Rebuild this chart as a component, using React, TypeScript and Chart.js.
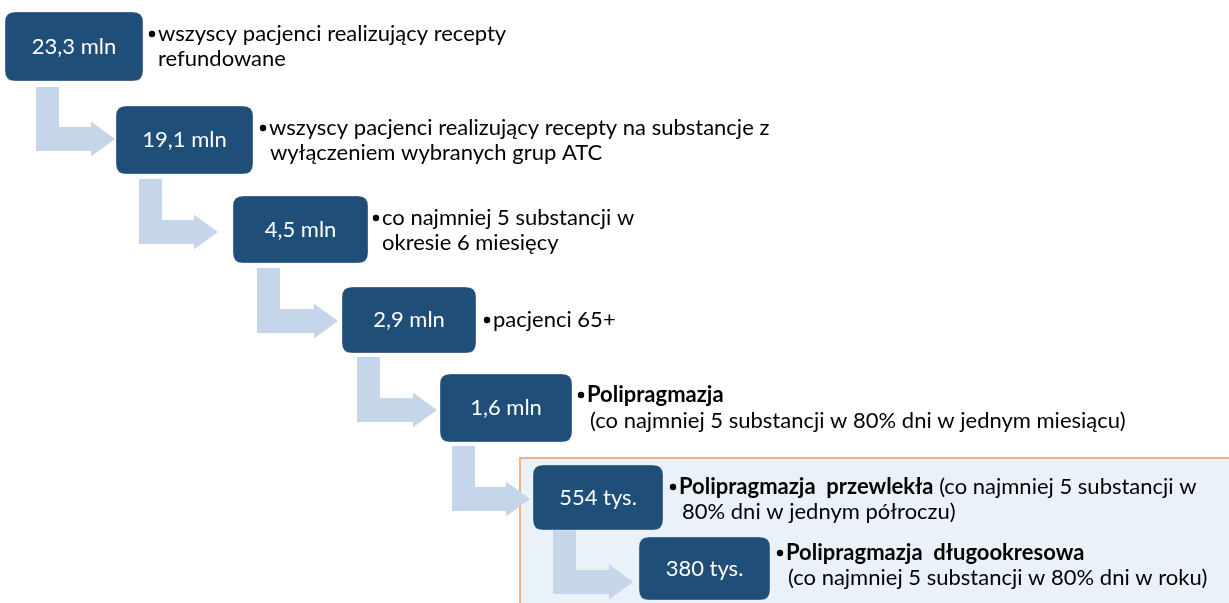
import React, { useEffect, useRef } from "react";
import { Chart, registerables } from "chart.js";

Chart.register(...registerables);

// ---- data ----
const stepValues: string[] = ["23,3 mln", "19,1 mln", "4,5 mln", "2,9 mln", "1,6 mln", "554 tys.", "380 tys."];
const stepDescriptions: string[][] = [
  ["wszyscy pacjenci realizujący recepty", "refundowane"],
  ["wszyscy pacjenci realizujący recepty na substancje z", "wyłączeniem wybranych grup ATC"],
  ["co najmniej 5 substancji w", "okresie 6 miesięcy"],
  ["pacjenci 65+"],
  ["**Polipragmazja**", "(co najmniej 5 substancji w 80% dni w jednym miesiącu)"],
  ["**Polipragmazja  przewlekła** (co najmniej 5 substancji w", "80% dni w jednym półroczu)"],
  ["**Polipragmazja  długookresowa**", "(co najmniej 5 substancji w 80% dni w roku)"],
];

// ---- layout (page pixels) ----
const boxRects: number[][] = [
  [5, 12, 143, 81],
  [116, 106, 253, 174],
  [233, 196, 368, 263],
  [342, 287, 476, 353],
  [440, 374, 572, 442],
  [533, 465, 663, 530],
  [639, 537, 770, 600],
];
const textStartX: number[] = [148, 259, 372, 483, 577, 669, 776];
const secondLineShift: number[] = [0, 1, 0, 0, 3, 3, 2];
const textLineY: number[][] = [[34, 59], [128, 153], [218, 243], [320], [395, 421], [487, 512], [553, 578]];
// arrow: stemLeftX, stemTopY, tipX, centerY
const arrows: number[][] = [
  [36, 87, 115, 139],
  [139, 179, 218, 232],
  [257, 268, 338, 321],
  [357, 357, 437, 410],
  [452, 446, 530, 499],
  [553, 530, 633, 582],
];
const panelRect = [520, 458, 1240, 615];

const FONT = "Lato, 'Open Sans', sans-serif";
const FS = 22;
const BULLET_ADV = 10;
const BOX_COLOR = "#1F4E79";
const ARROW_COLOR = "#C5D5EA";

function roundRect(ctx: CanvasRenderingContext2D, x: number, y: number, w: number, h: number, r: number) {
  ctx.beginPath();
  ctx.moveTo(x + r, y);
  ctx.lineTo(x + w - r, y);
  ctx.quadraticCurveTo(x + w, y, x + w, y + r);
  ctx.lineTo(x + w, y + h - r);
  ctx.quadraticCurveTo(x + w, y + h, x + w - r, y + h);
  ctx.lineTo(x + r, y + h);
  ctx.quadraticCurveTo(x, y + h, x, y + h - r);
  ctx.lineTo(x, y + r);
  ctx.quadraticCurveTo(x, y, x + r, y);
  ctx.closePath();
}

const diagramPlugin = {
  id: "diagram",
  beforeDatasetsDraw(chart: any) {
    const ctx: CanvasRenderingContext2D = chart.ctx;
    const xs = chart.scales.x;
    const ys = chart.scales.y;
    const X = (v: number) => xs.getPixelForValue(v);
    const Y = (v: number) => ys.getPixelForValue(v);
    ctx.save();

    // highlighted panel
    ctx.fillStyle = "#EBF1F9";
    ctx.fillRect(X(panelRect[0]), Y(panelRect[1]), X(panelRect[2]) - X(panelRect[0]), Y(panelRect[3]) - Y(panelRect[1]));
    ctx.strokeStyle = "#F4B183";
    ctx.lineWidth = 2;
    ctx.strokeRect(X(panelRect[0]), Y(panelRect[1]), X(panelRect[2]) - X(panelRect[0]), Y(panelRect[3]) - Y(panelRect[1]));

    // arrows
    ctx.fillStyle = ARROW_COLOR;
    arrows.forEach(([sx, top, tip, cy]) => {
      const stemW = 23, barH = 12, headH = 17.5, headL = 24;
      ctx.beginPath();
      ctx.moveTo(X(sx), Y(top));
      ctx.lineTo(X(sx + stemW), Y(top));
      ctx.lineTo(X(sx + stemW), Y(cy - barH));
      ctx.lineTo(X(tip - headL), Y(cy - barH));
      ctx.lineTo(X(tip - headL), Y(cy - headH));
      ctx.lineTo(X(tip), Y(cy));
      ctx.lineTo(X(tip - headL), Y(cy + headH));
      ctx.lineTo(X(tip - headL), Y(cy + barH));
      ctx.lineTo(X(sx), Y(cy + barH));
      ctx.closePath();
      ctx.fill();
    });

    // boxes
    stepValues.forEach((label, i) => {
      const [x0, y0, x1, y1] = boxRects[i];
      roundRect(ctx, X(x0), Y(y0), X(x1) - X(x0), Y(y1) - Y(y0), 10);
      ctx.fillStyle = BOX_COLOR;
      ctx.fill();
      ctx.strokeStyle = "rgba(255,255,255,0.35)";
      ctx.lineWidth = 1;
      ctx.stroke();
      ctx.fillStyle = "#FFFFFF";
      ctx.font = `${FS}px ${FONT}`;
      ctx.textAlign = "center";
      ctx.textBaseline = "middle";
      ctx.fillText(label, X((x0 + x1) / 2), Y((y0 + y1) / 2));
    });

    // descriptions
    ctx.textAlign = "left";
    ctx.textBaseline = "middle";
    ctx.fillStyle = "#000000";
    stepDescriptions.forEach((lines, i) => {
      lines.forEach((line, li) => {
        let x = X(textStartX[i]);
        const y = Y(textLineY[i][li]);
        if (li === 0) {
          ctx.beginPath();
          ctx.arc(x + 4, y, 3.2, 0, Math.PI * 2);
          ctx.fill();
        }
        x += BULLET_ADV + (li > 0 ? secondLineShift[i] : 0);
        const parts = line.split("**");
        parts.forEach((p, pi) => {
          if (!p) return;
          ctx.font = `${pi % 2 === 1 ? "bold " : ""}${FS}px ${FONT}`;
          ctx.fillText(p, x, y);
          x += ctx.measureText(p).width;
        });
      });
    });
    ctx.restore();
  },
};

export default function App() {
  const ref = useRef<HTMLCanvasElement | null>(null);
  useEffect(() => {
    document.body.style.margin = "0";
    if (!ref.current) return;
    const chart = new Chart(ref.current, {
      type: "scatter",
      data: {
        datasets: [
          {
            data: boxRects.map((r) => ({ x: (r[0] + r[2]) / 2, y: (r[1] + r[3]) / 2 })),
            pointRadius: 0,
          },
        ],
      },
      options: {
        animation: false,
        responsive: true,
        maintainAspectRatio: false,
        layout: { padding: 0 },
        plugins: { legend: { display: false }, tooltip: { enabled: false } },
        scales: {
          x: { type: "linear", min: 0, max: 1229, display: false },
          y: { type: "linear", min: 0, max: 603, reverse: true, display: false },
        },
      },
      plugins: [diagramPlugin],
    });
    return () => chart.destroy();
  }, []);
  return (
    <div style={{ position: "absolute", left: 0, top: 0, width: 1229, height: 603, background: "#FFFFFF" }}>
      <canvas ref={ref} />
    </div>
  );
}
